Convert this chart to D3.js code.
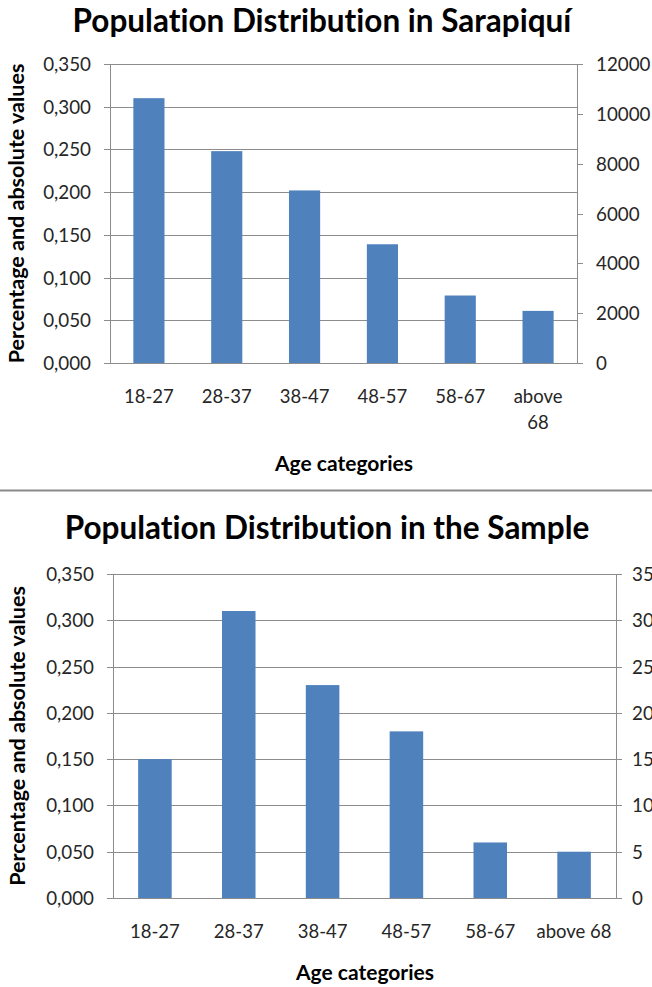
<!DOCTYPE html>
<html>
<head>
<meta charset="utf-8">
<script src="https://cdn.jsdelivr.net/npm/d3@7"></script>
<style>
  html, body { margin: 0; padding: 0; background: #fff; }
  svg { display: block; }
  text { font-variant-ligatures: none; }
</style>
</head>
<body>
<svg id="chart" width="652" height="987"></svg>
<script>
// Age groups shared by both panels
const categories = ["18-27", "28-37", "38-47", "48-57", "58-67", "above 68"];

// Share of population per age group
const sarapiquiShare = [0.310, 0.248, 0.202, 0.139, 0.079, 0.061];
const sampleShare = [0.150, 0.310, 0.230, 0.180, 0.060, 0.050];

// Axis tick values
const shareTicks = [0, 0.05, 0.10, 0.15, 0.20, 0.25, 0.30, 0.35];
const sarapiquiCountTicks = [0, 2000, 4000, 6000, 8000, 10000, 12000];
const sampleCountTicks = [0, 5, 10, 15, 20, 25, 30, 35];

const svg = d3.select("#chart");
const FONT = "Lato, 'Open Sans', sans-serif";
const GRID = "#8c8c8c";
const BAR = "#4f81bd";
const TEXT = "#262626";
const TICK_SIZE = 18.8;

const fmtShare = v => d3.format(".3f")(v).replace(".", ",");

function drawPanel(opt) {
  const g = svg.append("g");
  const x = d3.scaleBand()
    .domain(categories)
    .range([opt.left, opt.right])
    .paddingInner(0.6)
    .paddingOuter(0.3);
  const y = d3.scaleLinear().domain([0, 0.35]).range([opt.bottom, opt.top]);
  const y2 = d3.scaleLinear()
    .domain([0, opt.countTicks[opt.countTicks.length - 1]])
    .range([opt.bottom, opt.top]);

  // title
  g.append("text")
    .attr("x", opt.titleX).attr("y", opt.titleY)
    .attr("text-anchor", "middle")
    .attr("font-family", FONT).attr("font-weight", 700)
    .attr("font-size", 31.5).attr("fill", "#000")
    .text(opt.title);

  // horizontal gridlines (left axis ticks)
  g.selectAll("line.grid").data(shareTicks).join("line")
    .attr("x1", opt.left - 6).attr("x2", opt.right)
    .attr("y1", d => Math.round(y(d)) + 0.5).attr("y2", d => Math.round(y(d)) + 0.5)
    .attr("stroke", GRID).attr("stroke-width", 1);

  // right axis tick marks
  g.selectAll("line.rtick").data(opt.countTicks).join("line")
    .attr("x1", opt.right).attr("x2", opt.right + 6)
    .attr("y1", d => Math.round(y2(d)) + 0.5).attr("y2", d => Math.round(y2(d)) + 0.5)
    .attr("stroke", GRID).attr("stroke-width", 1);

  // left and right axis lines
  [opt.left, opt.right].forEach(px => {
    g.append("line")
      .attr("x1", px + 0.5).attr("x2", px + 0.5)
      .attr("y1", opt.top).attr("y2", opt.bottom + 0.5)
      .attr("stroke", GRID).attr("stroke-width", 1);
  });

  // bars
  g.selectAll("rect.bar").data(opt.values).join("rect")
    .attr("x", (d, i) => x(categories[i]))
    .attr("width", x.bandwidth())
    .attr("y", d => y(d))
    .attr("height", d => y(0) - y(d))
    .attr("fill", BAR);

  // left tick labels
  g.selectAll("text.yl").data(shareTicks).join("text")
    .attr("x", opt.left - 19).attr("y", d => y(d) + 7)
    .attr("text-anchor", "end")
    .attr("font-family", FONT).attr("font-size", TICK_SIZE).attr("fill", TEXT)
    .text(fmtShare);

  // right tick labels
  g.selectAll("text.yr").data(opt.countTicks).join("text")
    .attr("x", opt.right + opt.rightGap).attr("y", d => y2(d) + 7)
    .attr("text-anchor", "start")
    .attr("font-family", FONT).attr("font-size", TICK_SIZE).attr("fill", TEXT)
    .text(d => d);

  // category labels
  categories.forEach(c => {
    const cx = x(c) + x.bandwidth() / 2;
    const lines = opt.wrap && c.includes(" ") ? c.split(" ") : [c];
    const t = g.append("text")
      .attr("text-anchor", "middle")
      .attr("font-family", FONT).attr("font-size", 18.5).attr("fill", TEXT);
    lines.forEach((ln, i) => {
      t.append("tspan").attr("x", cx).attr("y", opt.catY + i * 26).text(ln);
    });
  });

  // x axis title
  g.append("text")
    .attr("x", opt.xTitleX).attr("y", opt.xTitleY)
    .attr("text-anchor", "middle")
    .attr("font-family", FONT).attr("font-weight", 700)
    .attr("font-size", 21).attr("fill", "#000")
    .text("Age categories");

  // y axis title
  const cy = (opt.top + opt.bottom) / 2;
  g.append("text")
    .attr("transform", `translate(${opt.yTitleX},${cy}) rotate(-90)`)
    .attr("text-anchor", "middle")
    .attr("font-family", FONT).attr("font-weight", 700)
    .attr("font-size", 21.5).attr("fill", "#000")
    .text("Percentage and absolute values");
}

drawPanel({
  title: "Population Distribution in Sarapiquí",
  values: sarapiquiShare,
  countTicks: sarapiquiCountTicks,
  left: 110, right: 577, top: 64, bottom: 363,
  rightGap: 19,
  titleX: 322, titleY: 32,
  catY: 403, wrap: true,
  xTitleX: 344, xTitleY: 471,
  yTitleX: 24
});

// divider between the two panels
svg.append("line")
  .attr("x1", 0).attr("x2", 652)
  .attr("y1", 490.5).attr("y2", 490.5)
  .attr("stroke", "#8a8a8a").attr("stroke-width", 2);

drawPanel({
  title: "Population Distribution in the Sample",
  values: sampleShare,
  countTicks: sampleCountTicks,
  left: 113, right: 616, top: 574, bottom: 898,
  rightGap: 16,
  titleX: 327, titleY: 539,
  catY: 938, wrap: false,
  xTitleX: 365, xTitleY: 980,
  yTitleX: 25
});
</script>
</body>
</html>
